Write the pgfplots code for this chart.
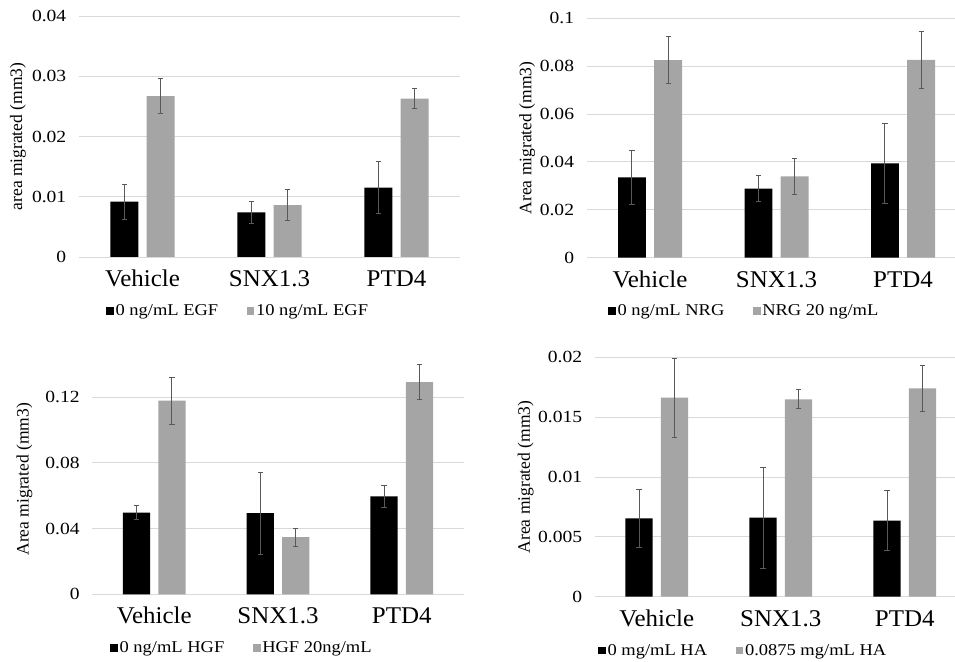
\documentclass[border=0pt]{standalone}
\usepackage{fontspec}
\setmainfont{Liberation Serif}
\usepackage{pgfplots}
\pgfplotsset{compat=1.18}
\definecolor{bargray}{HTML}{A5A5A5}
\definecolor{gridgray}{HTML}{D9D9D9}
\definecolor{errgray}{HTML}{595959}

\pgfplotsset{
  panel/.style={
    scale only axis, ybar, bar width=0.22,
    xmin=-0.5, xmax=2.5, ymin=0,
    xtick={0,1,2}, xticklabels={Vehicle,SNX1.3,PTD4},
    axis line style={draw=none}, major tick length=0pt,
    ymajorgrids, grid style={gridgray, line width=0.9pt},
    scaled y ticks=false,
    xticklabel style={font=\fontsize{24}{26}\selectfont, anchor=base, inner sep=0pt,
      yshift=-29.5pt, xscale=1.04},
    yticklabel style={font=\fontsize{17}{19}\selectfont, anchor=east, inner sep=0pt,
      xshift=-12.5pt, xscale=1.15},
    ylabel style={font=\fontsize{17.5}{19}\selectfont, anchor=center},
    legend columns=2,
    legend style={draw=none, fill=none, inner sep=0pt, anchor=west,
      font=\fontsize{16.5}{18}\selectfont, nodes={inner sep=1.5pt, xscale=1.12},
      /tikz/every even column/.append style={column sep=27pt}},
    legend image code/.code={\fill[##1] (0pt,-3.8pt) rectangle (7.6pt,3.8pt);},
    error bars/y dir=both, error bars/y explicit,
    error bars/error bar style={errgray, line width=0.9pt},
    error bars/error mark options={rotate=90, errgray, mark size=2.6pt, line width=0.9pt},
  },
}

\begin{document}
\begin{tikzpicture}
\useasboundingbox (0,0) rectangle (955pt,661pt);

% EGF
\begin{axis}[panel, at={(79pt,404pt)}, anchor=south west,
    width=381pt, height=241pt, ymax=0.04,
    ytick={0,0.01,0.02,0.03,0.04}, yticklabels={0,0.01,0.02,0.03,0.04},
    ylabel={area migrated (mm3)},
    ylabel style={at={(axis description cs:-0.16,0.5)}},
    legend style={at={(axis description cs:0.071,-0.224)}}]
\addplot[fill=black, draw=none, bar shift=-0.143] coordinates {
  (0,0.0092) +- (0,0.0029)
  (1,0.0074) +- (0,0.0018)
  (2,0.0115) +- (0,0.0043)
};
\addplot[fill=bargray, draw=none, bar shift=0.143] coordinates {
  (0,0.0267) +- (0,0.0029)
  (1,0.0086) +- (0,0.0026)
  (2,0.0263) +- (0,0.0017)
};
\legend{0 ng/mL EGF, 10 ng/mL EGF}
\end{axis}

% NRG
\begin{axis}[panel, at={(586.75pt,403.3pt)}, anchor=south west,
    width=368.25pt, height=239.4pt, ymax=0.1, xmax=2.411,
    ytick={0,0.02,0.04,0.06,0.08,0.1}, yticklabels={0,0.02,0.04,0.06,0.08,0.1},
    ylabel={Area migrated (mm3)},
    ylabel style={at={(axis description cs:-0.162,0.5)}},
    legend style={at={(axis description cs:0.058,-0.223)}}]
\addplot[fill=black, draw=none, bar shift=-0.143] coordinates {
  (0,0.0336) +- (0,0.0114)
  (1,0.0288) +- (0,0.0054)
  (2,0.0394) +- (0,0.0167)
};
\addplot[fill=bargray, draw=none, bar shift=0.143] coordinates {
  (0,0.0825) +- (0,0.0099)
  (1,0.0340) +- (0,0.0075)
  (2,0.0826) +- (0,0.0118)
};
\legend{0 ng/mL NRG, NRG 20 ng/mL}
\end{axis}

% HGF
\begin{axis}[panel, at={(92.3pt,66.7pt)}, anchor=south west,
    width=371.4pt, height=230.2pt, ymax=0.14,
    ytick={0,0.04,0.08,0.12}, yticklabels={0,0.04,0.08,0.12},
    ylabel={Area migrated (mm3)},
    ylabel style={at={(axis description cs:-0.183,0.5)}},
    legend style={at={(axis description cs:0.048,-0.233)}}]
\addplot[fill=black, draw=none, bar shift=-0.143] coordinates {
  (0,0.0497) +- (0,0.0044)
  (1,0.0493) +- (0,0.0250)
  (2,0.0596) +- (0,0.0069)
};
\addplot[fill=bargray, draw=none, bar shift=0.143] coordinates {
  (0,0.1178) +- (0,0.0143)
  (1,0.0347) +- (0,0.0053)
  (2,0.1291) +- (0,0.0106)
};
\legend{0 ng/mL HGF, HGF 20ng/mL}
\end{axis}

% HA
\begin{axis}[panel, at={(594.8pt,64.3pt)}, anchor=south west,
    width=360.2pt, height=239.4pt, ymax=0.02, xmax=2.405,
    ytick={0,0.005,0.01,0.015,0.02}, yticklabels={0,0.005,0.01,0.015,0.02},
    ylabel={Area migrated (mm3)},
    ylabel style={at={(axis description cs:-0.192,0.5)}},
    legend style={at={(axis description cs:0.009,-0.224)}}]
\addplot[fill=black, draw=none, bar shift=-0.143] coordinates {
  (0,0.00655) +- (0,0.0024)
  (1,0.0066) +- (0,0.0042)
  (2,0.00635) +- (0,0.0025)
};
\addplot[fill=bargray, draw=none, bar shift=0.143] coordinates {
  (0,0.01663) +- (0,0.0033)
  (1,0.01649) +- (0,0.0008)
  (2,0.01741) +- (0,0.0019)
};
\legend{0 mg/mL HA, 0.0875 mg/mL HA}
\end{axis}
\end{tikzpicture}
\end{document}
